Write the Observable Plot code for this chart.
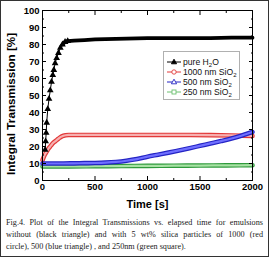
<!DOCTYPE html>
<html><head><meta charset="utf-8">
<script src="https://cdn.jsdelivr.net/npm/d3@7"></script>
<script src="https://cdn.jsdelivr.net/npm/@observablehq/plot@0.6"></script>
<style>
body{margin:0;background:#fff;}
#wrap{position:relative;width:269px;height:257px;overflow:hidden;background:#fff;font-family:Arial,"Liberation Sans",sans-serif;}
#chart{position:absolute;left:0;top:0;}
#border{position:absolute;left:0;top:0;width:269px;height:257px;box-sizing:border-box;border:1.5px solid #333;pointer-events:none;}
#legend{position:absolute;left:163px;top:51px;width:77px;height:49px;box-sizing:border-box;border:1px solid #b0b0b0;background:#fff;}
.entry{position:absolute;left:0;height:10px;display:flex;align-items:center;font-size:8.6px;color:#111;white-space:nowrap;}
.entry svg{margin-left:3px;margin-right:2px;}
sub{font-size:6px;vertical-align:-2px;line-height:0;}
#caption{position:absolute;left:6px;top:217px;width:257px;font-family:"Liberation Serif","Times New Roman",serif;font-size:8.2px;line-height:12px;color:#222;}
.cl{text-align:justify;text-align-last:justify;white-space:nowrap;}
.cl.last{text-align:left;text-align-last:left;}
</style>
</head><body>
<div id="wrap">
  <div id="chart"></div>
  <div id="legend"></div>
  <div id="caption"></div>
  <div id="border"></div>
</div>
<script>
// ---- data ----
const majorX = [0, 500, 1000, 1500, 2000];
const minorX = [250, 750, 1250, 1750];
const majorY = [0, 10, 20, 30, 40, 50, 60, 70, 80, 90, 100];
const minorY = [5, 15, 25, 35, 45, 55, 65, 75, 85, 95];

const seriesNames = ["pure H2O", "1000 nm SiO2", "500 nm SiO2", "250 nm SiO2"];

const h2oTime  = [25, 30, 35, 40, 50, 62, 74, 86, 98, 108, 120, 135, 152, 170, 190, 215, 240, 300, 400, 500, 600, 800, 1000, 1200, 1400, 1600, 1800, 2000];
const h2oValue = [18, 23, 28, 34, 42, 48, 53, 58, 62, 65, 69, 72, 75, 78, 80, 81.5, 82, 82.3, 82.6, 83, 83.2, 83.5, 83.7, 83.7, 83.7, 83.8, 84, 84];

const si1000Time  = [0, 20, 40, 60, 80, 100, 120, 140, 160, 180, 200, 220, 250, 400, 600, 800, 1000, 1200, 1400, 1600, 1800, 2000];
const si1000Value = [12, 15, 17, 19, 20.5, 22, 23, 24, 25, 25.8, 26.3, 26.6, 26.8, 26.8, 26.8, 26.8, 26.8, 26.8, 26.8, 26.7, 26.5, 26.2];

const si500Time  = [0, 100, 200, 300, 400, 500, 600, 700, 800, 900, 1000, 1100, 1200, 1300, 1400, 1500, 1600, 1700, 1800, 1900, 2000];
const si500Value = [10, 10, 10, 10.1, 10.2, 10.3, 10.5, 10.9, 11.6, 12.6, 14, 15.2, 16.4, 17.7, 19, 20.4, 21.8, 23.2, 24.7, 26.5, 28.5];

const si250Time  = [0, 250, 500, 750, 1000, 1250, 1500, 1750, 2000];
const si250Value = [8.3, 8.3, 8.4, 8.5, 8.6, 8.7, 8.8, 8.9, 9];

const captionLines = [
  "Fig.4. Plot of the Integral Transmissions vs. elapsed time for emulsions",
  "without (black triangle) and with 5 wt% silica particles of 1000 (red",
  "circle), 500 (blue triangle) , and 250nm (green square)."
];

// ---- build ----
const rows = (t, v) => t.map((x, i) => ({t: x, v: v[i]}));
const h2o = rows(h2oTime, h2oValue);
const s1000 = rows(si1000Time, si1000Value);
const s500 = rows(si500Time, si500Value);
const s250 = rows(si250Time, si250Value);

const blank = () => "";
const band = (data, outer, inner) => [
  Plot.line(data, {x: "t", y: "v", stroke: outer, strokeWidth: 4.6, curve: "monotone-x"}),
  Plot.line(data, {x: "t", y: "v", stroke: inner, strokeWidth: 2.2, curve: "monotone-x"})
];

const chart = Plot.plot({
  width: 269, height: 215,
  marginLeft: 42, marginRight: 17, marginTop: 10, marginBottom: 35,
  style: {fontFamily: "Arial, 'Liberation Sans', sans-serif", fontSize: "9.5px", fontWeight: "bold", color: "#000", background: "transparent", overflow: "visible"},
  x: {domain: [0, 2000]},
  y: {domain: [0, 100]},
  marks: [
    ...band(s250, "#2f9a3c", "#a8e2a4"),
    ...band(s1000, "#e23a3a", "#f7b0b0"),
    ...band(s500, "#2424c4", "#6f6fff"),
    Plot.line(h2o, {x: "t", y: "v", stroke: "#000", strokeWidth: 1}),
    Plot.line(h2o.filter(d => d.t >= 190), {x: "t", y: "v", stroke: "#000", strokeWidth: 3.8}),
    Plot.dot(h2o.filter(d => d.t <= 240), {x: "t", y: "v", symbol: "triangle", r: 2.5, fill: "#000"}),
    Plot.frame({stroke: "#000", strokeWidth: 1}),
    Plot.axisX({ticks: majorX, tickSize: 0, tickPadding: 3, tickFormat: d => String(d), label: null, fontWeight: "bold"}),
    Plot.axisX({ticks: majorX, tickSize: -4, tickFormat: blank, label: null}),
    Plot.axisX({ticks: minorX, tickSize: -2, tickFormat: blank, label: null}),
    Plot.axisX({anchor: "top", ticks: majorX, tickSize: -4, tickFormat: blank, label: null}),
    Plot.axisX({anchor: "top", ticks: minorX, tickSize: -2, tickFormat: blank, label: null}),
    Plot.axisY({ticks: majorY, tickSize: 0, tickPadding: 3, tickFormat: d => String(d), label: null, fontWeight: "bold"}),
    Plot.axisY({ticks: majorY, tickSize: -4, tickFormat: blank, label: null}),
    Plot.axisY({ticks: minorY, tickSize: -2, tickFormat: blank, label: null}),
    Plot.axisY({anchor: "right", ticks: majorY, tickSize: -4, tickFormat: blank, label: null}),
    Plot.axisY({anchor: "right", ticks: minorY, tickSize: -2, tickFormat: blank, label: null}),
    Plot.text(["Time [s]"], {text: d => d, frameAnchor: "bottom", dy: 27, fontSize: 11, fontWeight: "bold", fill: "#000"}),
    Plot.text(["Integral Transmission [%]"], {text: d => d, frameAnchor: "left", textAnchor: "middle", dx: -31, dy: 8.5, rotate: -90, fontSize: 11.7, fontWeight: "bold", fill: "#000"})
  ]
});
document.getElementById("chart").appendChild(chart);

// ---- legend ----
const legendSpec = [
  {label: "pure H", sub: "2", tail: "O", color: "#000", marker: "tri", fill: "#000"},
  {label: "1000 nm SiO", sub: "2", tail: "", color: "#e23a3a", marker: "circle", fill: "#fff"},
  {label: "500 nm SiO", sub: "2", tail: "", color: "#2424c4", marker: "tri", fill: "#fff"},
  {label: "250 nm SiO", sub: "2", tail: "", color: "#6cc070", marker: "square", fill: "#fff"}
];
const legendTops = [5, 15, 25, 35];
const legend = document.getElementById("legend");
legendSpec.forEach((s, i) => {
  const e = document.createElement("div");
  e.className = "entry";
  e.style.top = legendTops[i] + "px";
  let m;
  if (s.marker === "tri") m = `<path d="M7,1.2 L9.6,5.8 L4.4,5.8 Z" fill="${s.fill}" stroke="${s.color}" stroke-width="0.9"/>`;
  else if (s.marker === "circle") m = `<circle cx="7" cy="4" r="2.2" fill="${s.fill}" stroke="${s.color}" stroke-width="0.9"/>`;
  else m = `<rect x="5" y="2" width="4" height="4" fill="${s.fill}" stroke="${s.color}" stroke-width="0.9"/>`;
  e.innerHTML = `<svg width="14" height="8"><line x1="0" y1="4" x2="14" y2="4" stroke="${s.color}" stroke-width="1"/>${m}</svg><span>${s.label}<sub>${s.sub}</sub>${s.tail}</span>`;
  legend.appendChild(e);
});

// ---- caption ----
const cap = document.getElementById("caption");
captionLines.forEach((l, i) => {
  const d = document.createElement("div");
  d.className = "cl" + (i === captionLines.length - 1 ? " last" : "");
  d.textContent = l;
  cap.appendChild(d);
});
</script>
</body></html>
